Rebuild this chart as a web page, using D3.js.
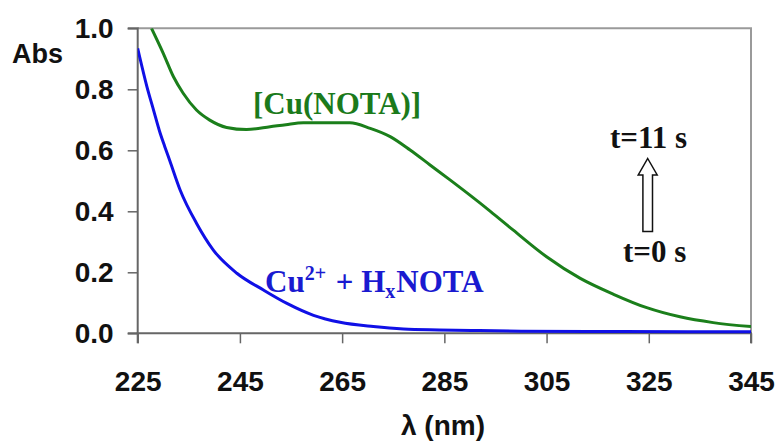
<!DOCTYPE html>
<html>
<head>
<meta charset="utf-8">
<script src="https://cdn.jsdelivr.net/npm/d3@7"></script>
<style>
  html, body { margin: 0; padding: 0; background: #fff; }
  svg { display: block; }
</style>
</head>
<body>
<svg id="chart" width="779" height="443"></svg>
<script>
// UV absorbance spectra: Cu2+ + HxNOTA at t=0 s and [Cu(NOTA)] at t=11 s
const xTicks = [225, 245, 265, 285, 305, 325, 345];
const yTicks = [0.0, 0.2, 0.4, 0.6, 0.8, 1.0];

const complexLambda = [227.7, 230.0, 232.0, 233.9, 236.5, 239.1, 242.4, 246.3, 250.9, 254.0,
  257.4, 262.0, 266.5, 270.5, 274.4, 278.3, 282.2, 286.1, 290.0, 294.0, 298.5, 305.0,
  311.6, 318.1, 324.6, 331.1, 337.6, 345.0];
const complexAbs = [1.0, 0.918, 0.841, 0.787, 0.732, 0.699, 0.675, 0.668, 0.677, 0.684,
  0.690, 0.690, 0.690, 0.672, 0.645, 0.601, 0.552, 0.503, 0.453, 0.400, 0.338, 0.251,
  0.180, 0.128, 0.084, 0.054, 0.035, 0.022];

const freeLambda = [225.0, 226.8, 228.1, 229.4, 230.3, 231.3, 233.3, 236.5, 239.8, 244.4,
  249.6, 254.2, 259.4, 264.6, 271.1, 277.0, 284.0, 291.3, 300.0, 320.0, 345.0];
const freeAbs = [0.934, 0.809, 0.732, 0.656, 0.612, 0.565, 0.470, 0.361, 0.273, 0.197,
  0.142, 0.098, 0.059, 0.036, 0.022, 0.014, 0.011, 0.009, 0.007, 0.006, 0.005];

const svg = d3.select("#chart");
const plotLeft = 137.7, plotRight = 751, plotTop = 28.3, plotBottom = 333.3;

const x = d3.scaleLinear().domain([225, 345]).range([plotLeft, plotRight]);
const y = d3.scaleLinear().domain([0, 1]).range([plotBottom, plotTop]);

svg.append("rect").attr("width", 779).attr("height", 443).attr("fill", "#fff");

// plot frame (top and right)
svg.append("path")
  .attr("d", `M${plotLeft},${plotTop}H${plotRight}V${plotBottom}`)
  .attr("fill", "none").attr("stroke", "#9a9a9a").attr("stroke-width", 2);

const sansBold = "'Liberation Sans', Arial, sans-serif";
const serifBold = "'Liberation Serif', 'Times New Roman', serif";

const yAxis = svg.append("g").attr("transform", `translate(${plotLeft},0)`)
  .call(d3.axisLeft(y).tickValues(yTicks).tickFormat(d3.format(".1f")).tickSize(10).tickPadding(14));
const xAxis = svg.append("g").attr("transform", `translate(0,${plotBottom})`)
  .call(d3.axisBottom(x).tickValues(xTicks).tickFormat(d3.format("d")).tickSize(10).tickPadding(28));

[yAxis, xAxis].forEach(g => {
  g.select(".domain").attr("stroke", "#666").attr("stroke-width", 2);
  g.selectAll(".tick line").attr("stroke", "#666").attr("stroke-width", 1.5);
  g.selectAll(".tick text").attr("fill", "#111")
    .style("font-family", sansBold).style("font-weight", "bold").style("font-size", "28px");
});
yAxis.select(".domain").attr("d", `M-10,${plotTop}H0V${plotBottom}H-10`);
xAxis.select(".domain").attr("d", `M${plotLeft},10V0H${plotRight}V10`);

// axis titles
svg.append("text").attr("x", 12).attr("y", 63).text("Abs")
  .style("font-family", sansBold).style("font-weight", "bold").style("font-size", "27px")
  .attr("fill", "#111");
svg.append("text").attr("x", 443).attr("y", 435).attr("text-anchor", "middle").text("λ (nm)")
  .style("font-family", sansBold).style("font-weight", "bold").style("font-size", "28px")
  .attr("fill", "#111");

// spectra
svg.append("clipPath").attr("id", "plotClip").append("rect")
  .attr("x", plotLeft).attr("y", plotTop).attr("width", plotRight - plotLeft)
  .attr("height", plotBottom - plotTop + 2);

const line = d3.line().curve(d3.curveMonotoneX).x(d => x(d[0])).y(d => y(d[1]));
const curves = svg.append("g").attr("clip-path", "url(#plotClip)");
curves.append("path")
  .datum(freeLambda.map((l, i) => [l, freeAbs[i]]))
  .attr("d", line).attr("fill", "none").attr("stroke", "#1010e6").attr("stroke-width", 3)
  .attr("stroke-linejoin", "round");
curves.append("path")
  .datum(complexLambda.map((l, i) => [l, complexAbs[i]]))
  .attr("d", line).attr("fill", "none").attr("stroke", "#1b7f1b").attr("stroke-width", 3)
  .attr("stroke-linejoin", "round");

// series labels
const labelFont = g => g.style("font-family", serifBold).style("font-weight", "bold").style("font-size", "31px");
svg.append("text").attr("x", 253).attr("y", 114).attr("fill", "#1b7a1b")
  .text("[Cu(NOTA)]").call(labelFont);

const free = svg.append("text").attr("x", 265).attr("y", 292).attr("fill", "#1a1ad0").call(labelFont);
free.append("tspan").text("Cu");
free.append("tspan").text("2+").attr("dy", -12).style("font-size", "20px");
free.append("tspan").text(" + H").attr("dx", 2).attr("dy", 12);
free.append("tspan").text("x").attr("dy", 6).style("font-size", "20px");
free.append("tspan").text("NOTA").attr("dx", 1).attr("dy", -6);

// time arrow
svg.append("text").attr("x", 610).attr("y", 148).attr("fill", "#111").text("t=11 s").call(labelFont);
svg.append("text").attr("x", 623).attr("y", 262).attr("fill", "#111").text("t=0 s").call(labelFont);

const ax = 647.7;
svg.append("path")
  .attr("d", `M${ax},158.5 L${ax + 9.5},175 L${ax + 4.8},175 L${ax + 4.8},231.5 L${ax - 4.8},231.5 L${ax - 4.8},175 L${ax - 9.5},175 Z`)
  .attr("fill", "#fff").attr("stroke", "#111").attr("stroke-width", 1.5).attr("stroke-linejoin", "miter");
</script>
</body>
</html>
